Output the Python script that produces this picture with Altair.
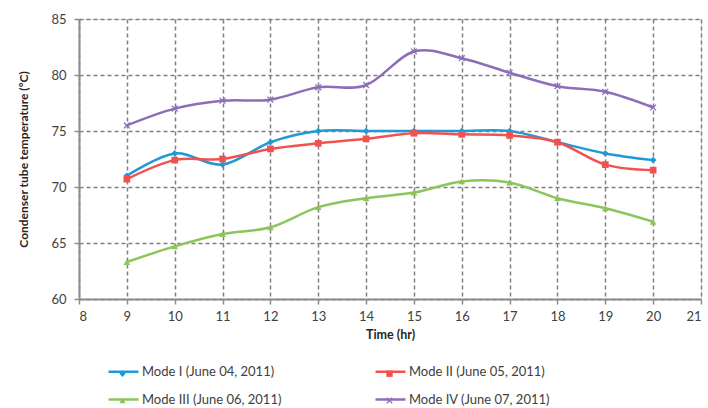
import altair as alt
import pandas as pd

hours = [9, 10, 11, 12, 13, 14, 15, 16, 17, 18, 19, 20]
mode1 = [71.0, 73.0, 72.0, 74.0, 75.0, 75.0, 75.0, 75.0, 75.0, 74.0, 73.0, 72.4]
mode2 = [70.7, 72.4, 72.5, 73.4, 73.9, 74.3, 74.8, 74.7, 74.6, 74.0, 72.0, 71.5]
mode3 = [63.3, 64.7, 65.8, 66.4, 68.2, 69.0, 69.5, 70.5, 70.4, 69.0, 68.1, 66.9]
mode4 = [75.5, 77.0, 77.7, 77.8, 78.9, 79.1, 82.1, 81.5, 80.2, 79.0, 78.5, 77.1]
series_names = ["Mode I (June 04, 2011)", "Mode II (June 05, 2011)",
                "Mode III (June 06, 2011)", "Mode IV (June 07, 2011)"]
colors = ["#1F9AD6", "#F2524F", "#8CC55B", "#8D6DB8"]
xshape = "M-1,-0.75L-0.75,-1L0,-0.3L0.75,-1L1,-0.75L0.3,0L1,0.75L0.75,1L0,0.3L-0.75,1L-1,0.75L-0.3,0Z"
shapes = ["diamond", "square", "triangle-up", xshape]

rows = []
for name, vals in zip(series_names, [mode1, mode2, mode3, mode4]):
    for h, v in zip(hours, vals):
        rows.append({"Time": h, "Temp": v, "Mode": name})
df = pd.DataFrame(rows)

FONT = "Lato"
x_enc = alt.X("Time:Q", scale=alt.Scale(domain=[8, 21], nice=False),
              axis=alt.Axis(values=list(range(8, 22)), title="Time (hr)",
                            grid=True, gridDash=[4, 3], gridColor="#808080", gridWidth=1.5,
                            domainColor="#8C8C8C", domainWidth=2, tickColor="#8C8C8C",
                            tickSize=5, tickWidth=1.5, labelPadding=6,
                            labelFontSize=13, labelColor="#404040", labelFont=FONT,
                            titleFont=FONT, titleFontSize=12.5, titleFontWeight="bold",
                            titleColor="#262626", titlePadding=5))
y_enc = alt.Y("Temp:Q", scale=alt.Scale(domain=[60, 85], nice=False),
              axis=alt.Axis(values=[60, 65, 70, 75, 80, 85],
                            title="Condenser tube temperature (ºC)",
                            grid=True, gridDash=[4, 3], gridColor="#808080", gridWidth=1.5,
                            domainColor="#8C8C8C", domainWidth=2, tickColor="#8C8C8C",
                            tickSize=5, tickWidth=1.5, labelPadding=8,
                            labelFontSize=13, labelColor="#404040", labelFont=FONT,
                            titleFont=FONT, titleFontSize=12, titleFontWeight="bold",
                            titleColor="#262626", titlePadding=20))

color_scale = alt.Scale(domain=series_names, range=colors)

# legend offsets are relative to the plot area origin (79, 19)
LX, LY = 28, 336
line_legend = alt.Legend(orient="none", legendX=LX, legendY=LY, columns=2, direction="horizontal",
                         title=None,
                         symbolType="stroke", symbolSize=900, symbolStrokeWidth=2.5,
                         labelOffset=2, columnPadding=88, rowPadding=4,
                         labelFont=FONT, labelFontSize=13, labelColor="#404040", labelLimit=300)

lines = alt.Chart(df).mark_line(interpolate="cardinal", strokeWidth=2.5).encode(
    x=x_enc, y=y_enc,
    color=alt.Color("Mode:N", scale=color_scale, legend=line_legend),
)

mark_legend = alt.Legend(orient="none", legendX=LX + 9, legendY=LY + 12, columns=2, direction="horizontal",
                         title=None,
                         symbolSize=40, symbolStrokeWidth=0,
                         labelOffset=32 - 6.3, columnPadding=88, rowPadding=13,
                         labelFont=FONT, labelFontSize=13, labelOpacity=0, labelLimit=300)

points = alt.Chart(df).mark_point(filled=True, size=45, opacity=1).encode(
    x="Time:Q", y="Temp:Q",
    color=alt.Color("Mode:N", scale=color_scale, legend=mark_legend),
    shape=alt.Shape("Mode:N", scale=alt.Scale(domain=series_names, range=shapes), legend=mark_legend),
)

chart = alt.layer(lines, points).resolve_legend(color="independent", shape="independent").properties(
    width=622, height=280,
    autosize=alt.AutoSizeParams(type="none"),
    padding={"left": 79, "top": 19, "right": 7, "bottom": 109},
).configure_view(stroke=None).configure(background="white")

chart.save("out.html", embed_options={"renderer": "svg", "actions": False})
